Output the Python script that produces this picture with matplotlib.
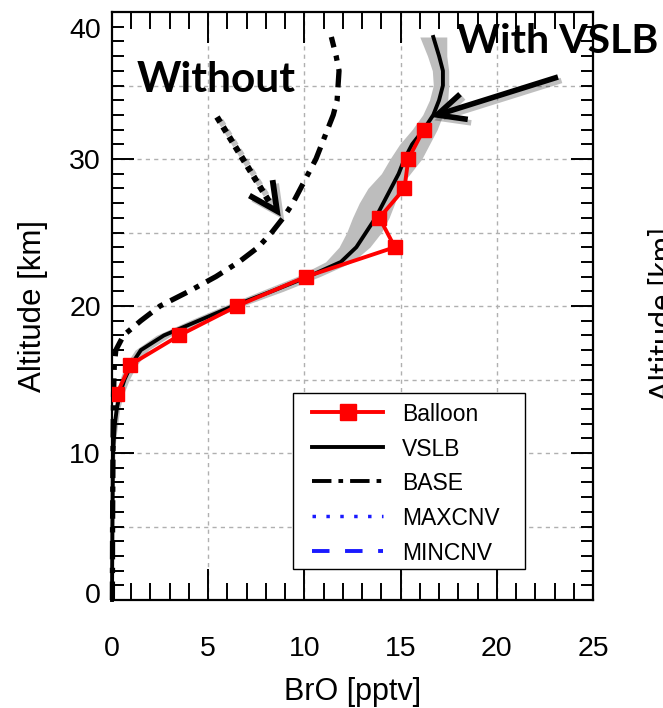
import numpy as np
import matplotlib
matplotlib.use("Agg")
import matplotlib.pyplot as plt
from matplotlib.lines import Line2D
from matplotlib.patches import Rectangle
import matplotlib.patheffects as pe
import matplotlib.transforms as mtransforms

# ---------------- data ----------------
balloon_alt = [14, 16, 18, 20, 22, 24, 26, 28, 30, 32]
balloon_bro = [0.25, 0.95, 3.5, 6.5, 10.1, 14.7, 13.9, 15.2, 15.4, 16.2]

vslb_alt = [0, 5, 10, 11, 12, 13, 14, 15, 16, 17, 18, 19, 20, 21, 22, 23, 24, 25, 26,
            27, 28, 29, 30, 31, 32, 33, 34, 35, 36, 37, 38.3]
vslb_bro = [0.0, 0.02, 0.05, 0.1, 0.15, 0.25, 0.4, 0.65, 1.0, 1.5, 2.7, 4.5, 6.3, 8.3,
            10.2, 11.9, 12.7, 13.2, 13.7, 14.1, 14.5, 14.9, 15.2, 15.6, 16.2, 16.7,
            17.0, 17.2, 17.2, 17.0, 16.7]
vslb_lo = [0.0, 0.0, 0.0, 0.0, 0.05, 0.1, 0.2, 0.4, 0.7, 1.2, 2.3, 4.0, 5.8, 7.7, 9.6,
           11.1, 11.8, 12.2, 12.5, 12.85, 13.3, 14.0, 14.45, 14.95, 15.6, 16.15, 16.5,
           16.7, 16.65, 16.4, 16.0]
vslb_hi = [0.05, 0.1, 0.15, 0.2, 0.3, 0.4, 0.6, 0.9, 1.3, 1.9, 3.1, 5.0, 6.8, 8.9, 10.8,
           12.5, 13.4, 14.0, 14.4, 14.7, 14.9, 15.5, 16.1, 16.5, 16.9, 17.2, 17.45,
           17.5, 17.5, 17.4, 17.4]

base_alt = [0, 5, 10, 14, 16, 17, 18, 19, 20, 21, 22, 23, 24, 25, 26, 27, 28, 29, 30,
            31, 32, 33, 34, 35, 36, 37, 38.3]
base_bro = [0.02, 0.03, 0.05, 0.08, 0.12, 0.2, 0.6, 1.5, 2.5, 4.0, 5.4, 6.6, 7.6, 8.3,
            8.9, 9.4, 9.8, 10.2, 10.6, 10.9, 11.2, 11.5, 11.7, 11.75, 11.8, 11.65, 11.4]

xticks = [0, 5, 10, 15, 20, 25]
yticks = [0, 10, 20, 30, 40]
legend_labels = ["Balloon", "VSLB", "BASE", "MAXCNV", "MINCNV"]

# ---------------- figure ----------------
W, H = 663, 708
fig = plt.figure(figsize=(W / 100, H / 100), dpi=100)
plt.rcParams['font.family'] = ['Liberation Sans', 'DejaVu Sans']

def fx(x):
    return x / W

def fy(y):
    return 1 - y / H

ax = fig.add_axes([fx(112), fy(600), (593 - 112) / W, (600 - 12) / H])
ax.set_xlim(0, 25)
ax.set_ylim(0, 40)

# grid
for v in [5, 10, 15, 20]:
    ax.axvline(v, color='#b0b0b0', lw=1.0, ls=(0, (3, 3)), zorder=0.5)
for h in [5, 10, 15, 20, 25, 30, 35]:
    ax.axhline(h, color='#b0b0b0', lw=1.0, ls=(0, (3, 3)), zorder=0.5)

# band
ax.fill_betweenx(vslb_alt, vslb_lo, vslb_hi, color='#bdbdbd', lw=0, zorder=1)
# BASE
ax.plot(base_bro, base_alt, color='black', lw=3.8, ls=(0, (3.5, 1.6, 1.0, 1.6)),
        dash_capstyle='butt', zorder=2, clip_on=False)
# VSLB
ax.plot(vslb_bro, vslb_alt, color='black', lw=2.8, zorder=3, clip_on=False)
# Balloon
ax.plot(balloon_bro, balloon_alt, color='red', lw=2.8, marker='s', ms=9.5,
        mec='red', zorder=4)

ax.set_xticks(xticks)
ax.set_xticks(np.arange(0, 26, 1), minor=True)
ax.set_yticks(yticks)
ax.set_yticks(np.arange(0, 41, 1), minor=True)
ax.tick_params(which='both', direction='in', top=True, right=True, width=1.4,
               labelsize=20.5)
ax.tick_params(axis='x', which='major', length=22, pad=26)
ax.tick_params(axis='x', which='minor', length=12)
ax.tick_params(axis='y', which='major', length=16, pad=8)
ax.tick_params(axis='y', which='minor', length=8.5)
for s in ax.spines.values():
    s.set_linewidth(1.6)

# shift end y-tick labels inward (as in reference)
fig.canvas.draw()
ylabs = ax.get_yticklabels()
ylabs[0].set_transform(ylabs[0].get_transform() +
                       mtransforms.ScaledTranslation(0, 7 / 100, fig.dpi_scale_trans))
ylabs[-1].set_transform(ylabs[-1].get_transform() +
                        mtransforms.ScaledTranslation(0, -16 / 100, fig.dpi_scale_trans))

ax.set_xlabel('BrO [pptv]', fontsize=22, labelpad=11)
ax.set_ylabel('Altitude [km]', fontsize=22.5, labelpad=15)

# legend (drawn as a box with samples)
fig.add_artist(Rectangle((fx(293), fy(569)), (525 - 293) / W, (569 - 393) / H,
                         transform=fig.transFigure, facecolor='white',
                         edgecolor='black', lw=1.0, zorder=5))
leg_styles = [
    dict(color='red', lw=2.8, marker='s', ms=11.5, markevery=[1]),
    dict(color='black', lw=2.8),
    dict(color='black', lw=2.8, ls=(0, (5, 1.8, 1.2, 1.8)), dash_capstyle='butt'),
    dict(color='#1a1aff', lw=2.5, ls=(0, (1, 3)), dash_capstyle='butt'),
    dict(color='#1a1aff', lw=2.8, ls=(0, (4.5, 4)), dash_capstyle='butt'),
]
leg_rows = [412, 447, 481, 516, 551]
for lab, st, yy in zip(legend_labels, leg_styles, leg_rows):
    fig.add_artist(Line2D([fx(312), fx(347.5), fx(383)], [fy(yy)] * 3,
                          transform=fig.transFigure, zorder=6, **st))
    fig.text(fx(402), fy(yy), lab, fontsize=16.5, ha='left', va='center_baseline',
             zorder=6)

# annotations
fig.text(fx(137), fy(92), 'Without', fontsize=30.5, fontweight='bold', family='Lato',
         ha='left', va='baseline')
fig.text(fx(457), fy(53), 'With VSLB', fontsize=29.5, fontweight='bold', family='Lato',
         ha='left', va='baseline')

shadow = [pe.SimpleLineShadow(offset=(2.5, -2.5), shadow_color='black', alpha=0.25),
          pe.Normal()]

def figline(pts, **kw):
    xs = [fx(p[0]) for p in pts]
    ys = [fy(p[1]) for p in pts]
    ln = Line2D(xs, ys, transform=fig.transFigure, color='black', **kw)
    ln.set_path_effects(shadow)
    fig.add_artist(ln)

# dotted arrow (Without)
figline([(217, 117), (270, 203)], lw=4.4, ls=(0, (1, 0.9)), dash_capstyle='butt')
figline([(252, 197), (277, 211), (273, 183)], lw=4.2, solid_joinstyle='miter')
# solid arrow (With VSLB)
figline([(558, 77), (440, 114)], lw=4.0, solid_capstyle='butt')
figline([(465, 119), (437, 115), (458, 96)], lw=4.0, solid_joinstyle='miter')

# clipped y-label of the neighbouring panel
fig.text(fx(649), fy(314), 'Altitude [km]', fontsize=22, rotation=90, family='Lato',
         ha='left', va='center')

fig.savefig('out.png', dpi=100)
